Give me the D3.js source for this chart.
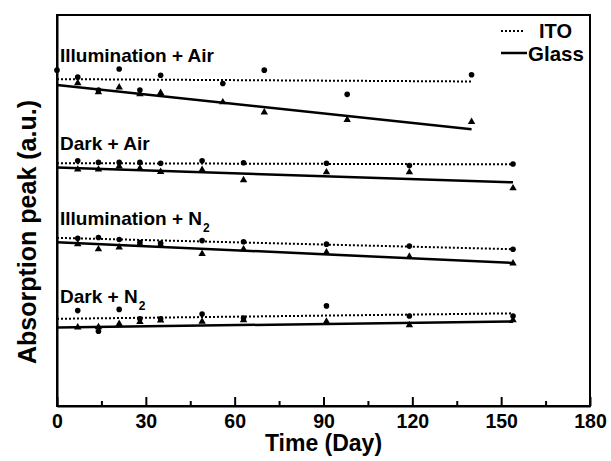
<!DOCTYPE html>
<html>
<head>
<meta charset="utf-8">
<script src="https://cdn.jsdelivr.net/npm/d3@7"></script>
<style>
  body { margin: 0; background: #fff; }
  text { font-family: "Liberation Sans", Arial, sans-serif; font-weight: bold; fill: #000; }
</style>
</head>
<body>
<div id="chart-area"></div>
<script>
// data (y in arbitrary units)
const groupNames = ["Illumination + Air", "Dark + Air", "Illumination + N", "Dark + N"];
const groupSubs = ["", "", "2", "2"];

const itoDays = [
  [0, 7, 14, 21, 28, 35, 56, 70, 98, 140],
  [7, 14, 21, 28, 35, 49, 63, 91, 119, 154],
  [7, 14, 21, 28, 35, 49, 63, 91, 119, 154],
  [7, 14, 21, 28, 35, 49, 63, 91, 119, 154]
];
const itoValues = [
  [85.9, 84.1, 80.8, 86.2, 80.8, 84.6, 82.5, 85.9, 79.7, 84.7],
  [62.7, 62.3, 62.3, 62.3, 62.1, 62.7, 62.2, 62.1, 61.5, 61.9],
  [42.9, 43.1, 42.6, 41.8, 41.6, 42.3, 42.0, 41.4, 40.9, 40.1],
  [24.4, 19.1, 24.7, 22.3, 22.3, 23.5, 22.5, 25.6, 23.0, 23.0]
];

const glassDays = [
  [7, 14, 21, 28, 35, 56, 70, 98, 140],
  [7, 14, 21, 28, 35, 49, 63, 91, 119, 154],
  [7, 14, 21, 28, 35, 49, 63, 91, 119, 154],
  [7, 14, 21, 28, 35, 49, 63, 91, 119, 154]
];
const glassValues = [
  [82.6, 80.3, 81.5, 79.8, 80.1, 77.7, 75.1, 73.2, 72.7],
  [60.5, 60.5, 61.3, 60.8, 59.9, 60.4, 57.8, 59.8, 59.8, 55.7],
  [41.4, 40.1, 40.6, 41.4, 41.2, 38.9, 40.1, 39.3, 38.2, 36.5],
  [20.1, 20.2, 21.0, 21.5, 21.9, 21.6, 22.0, 21.6, 20.7, 22.0]
];

// linear fits: [day, value] at start and end
const itoFits = [
  [[0, 83.6], [140, 83.0]],
  [[0, 62.1], [154, 61.8]],
  [[0, 43.0], [154, 40.1]],
  [[0, 22.3], [154, 23.7]]
];
const glassFits = [
  [[0, 82.1], [140, 70.8]],
  [[0, 61.0], [154, 57.2]],
  [[0, 41.9], [154, 36.6]],
  [[0, 20.1], [154, 21.6]]
];

const majorTicks = [0, 30, 60, 90, 120, 150, 180];
const minorTicks = [15, 45, 75, 105, 135, 165];

// layout
const margin = {top: 15, right: 21, bottom: 55, left: 57},
    width = 611 - margin.left - margin.right,
    height = 461 - margin.top - margin.bottom;
const labelVals = [88.0, 65.5, 46.3, 26.3];

const svg = d3.select("#chart-area")
  .append("svg")
    .attr("width", 611)
    .attr("height", 461)
  .append("g")
    .attr("transform", `translate(${margin.left}, ${margin.top})`);

const x = d3.scaleLinear().domain([0, 180]).range([0, width]);
const y = d3.scaleLinear().domain([0, 100]).range([height, 0]);

// frame
svg.append("rect")
  .attr("width", width).attr("height", height)
  .attr("fill", "none").attr("stroke", "#000").attr("stroke-width", 2);

// x axis, ticks pointing inward
svg.append("g")
  .attr("transform", `translate(0, ${height})`)
  .call(d3.axisBottom(x).tickValues(minorTicks).tickSize(-5).tickFormat(""))
  .call(g => g.select(".domain").remove())
  .selectAll("line").attr("stroke-width", 2);

const xAxis = svg.append("g")
  .attr("transform", `translate(0, ${height})`)
  .call(d3.axisBottom(x).tickValues(majorTicks).tickSize(-9).tickSizeOuter(0).tickPadding(8));
xAxis.select(".domain").attr("stroke-width", 2);
xAxis.selectAll("line").attr("stroke-width", 2);
xAxis.selectAll("text")
  .style("font-size", "19.5px")
  .style("font-family", "Liberation Sans, Arial, sans-serif")
  .style("font-weight", "bold");

// y axis line only
svg.append("g")
  .call(d3.axisLeft(y).tickValues([]).tickSizeOuter(0))
  .select(".domain").attr("stroke-width", 2);

// axis titles
svg.append("text")
  .attr("x", width / 2).attr("y", height + 45)
  .attr("text-anchor", "middle")
  .style("font-size", "23px")
  .text("Time (Day)");

svg.append("text")
  .attr("transform", `translate(-21, ${232 - margin.top}) rotate(-90)`)
  .attr("text-anchor", "middle")
  .style("font-size", "25px")
  .text("Absorption peak (a.u.)");

const line = d3.line().x(d => x(d[0])).y(d => y(d[1]));

groupNames.forEach((name, i) => {
  // fit lines
  svg.append("path")
    .datum(itoFits[i])
    .attr("d", line)
    .attr("fill", "none").attr("stroke", "#000")
    .attr("stroke-width", 2).attr("stroke-dasharray", "2,2");
  svg.append("path")
    .datum(glassFits[i])
    .attr("d", line)
    .attr("fill", "none").attr("stroke", "#000")
    .attr("stroke-width", 2.5);

  // ITO points
  svg.selectAll(".ito" + i)
    .data(itoDays[i].map((d, j) => [d, itoValues[i][j]]))
    .enter()
    .append("circle")
      .attr("cx", d => x(d[0]))
      .attr("cy", d => y(d[1]))
      .attr("r", 2.8)
      .attr("fill", "#000");

  // Glass points
  svg.selectAll(".glass" + i)
    .data(glassDays[i].map((d, j) => [d, glassValues[i][j]]))
    .enter()
    .append("path")
      .attr("d", d3.symbol(d3.symbolTriangle, 24))
      .attr("transform", d => `translate(${x(d[0])}, ${y(d[1])})`)
      .attr("fill", "#000");

  // group label
  const t = svg.append("text")
    .attr("x", 3).attr("y", y(labelVals[i]))
    .style("font-size", "19px")
    .text(name);
  if (groupSubs[i]) {
    t.append("tspan")
      .attr("dx", 1).attr("dy", 7)
      .style("font-size", "12px")
      .text(groupSubs[i]);
  }
});

// legend
const legend = svg.append("g").attr("transform", `translate(${width - 89}, 0)`);
legend.append("line")
  .attr("x1", 0).attr("x2", 24).attr("y1", 16).attr("y2", 16)
  .attr("stroke", "#000").attr("stroke-width", 2).attr("stroke-dasharray", "2,2");
legend.append("text")
  .attr("x", 38).attr("y", 23)
  .style("font-size", "20px")
  .text("ITO");
legend.append("line")
  .attr("x1", 0).attr("x2", 26).attr("y1", 38).attr("y2", 38)
  .attr("stroke", "#000").attr("stroke-width", 2.5);
legend.append("text")
  .attr("x", 27).attr("y", 46)
  .style("font-size", "20.5px")
  .text("Glass");
</script>
</body>
</html>
